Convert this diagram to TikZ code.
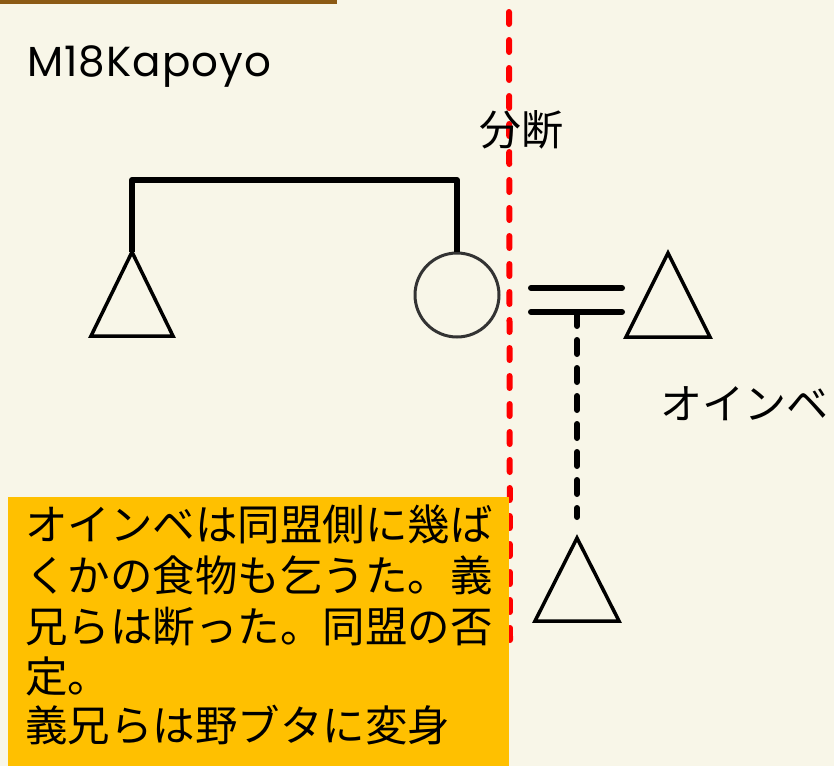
\documentclass[tikz,border=0pt]{standalone}
\usepackage{fontspec}
\newfontfamily\jp{Noto Sans CJK JP}
\newfontfamily\lat[LetterSpace=2.5]{Poppins}
\definecolor{bg}{HTML}{F8F6E8}
\definecolor{brownbar}{HTML}{8C5A14}
\definecolor{memo}{HTML}{FFC000}
\definecolor{circ}{HTML}{333333}
\begin{document}
\begin{tikzpicture}[x=1pt,y=-1pt,
  bond/.style={line width=6pt, line cap=round, line join=round},
  tri/.style={line width=3.5pt, line join=miter},
  jtxt/.style={font=\jp\fontsize{42}{50}\selectfont, inner sep=0pt, anchor=base west},
  memotxt/.style={font=\jp\fontsize{42.5}{50}\selectfont, inner sep=0pt, anchor=base west},
  divline/.style={red, line width=6pt, line cap=round, dash pattern=on 12pt off 16pt}]
\useasboundingbox (0,0) rectangle (834,766);
\fill[bg] (0,0) rectangle (834,766);
\fill[brownbar] (0,0) rectangle (337,4);
\node[font=\lat\fontsize{42}{48}\selectfont, inner sep=0pt, anchor=base west] (title) at (27,76) {M18Kapoyo};
% persons
\coordinate (Ltop) at (132,252);
\draw[tri] (Ltop) -- ++(-41,84) -- ++(82,0) -- cycle;
\node[circle, draw=circ, line width=3pt, minimum size=84pt, inner sep=0pt] (W) at (457,295) {};
\coordinate (Rtop) at (668,253);
\draw[tri] (Rtop) -- ++(-42,84) -- ++(84,0) -- cycle;
\coordinate (Btop) at (577,538);
\draw[tri] (Btop) -- ++(-42,83) -- ++(84,0) -- cycle;
% marriage bracket
\draw[bond, line cap=butt] (Ltop) -- ++(0,-72) -| (W.north);
% double line
\coordinate (d1a) at (531,288);
\coordinate (d1b) at (622,288);
\coordinate (d2a) at (531,312);
\coordinate (d2b) at (622,312);
\draw[bond] (d1a) -- (d1b);
\draw[bond] (d2a) -- (d2b);
\coordinate (cstart) at (577,312);
\coordinate (cend) at (577,517);
\draw[line width=6pt, line cap=round, dash pattern=on 14pt off 14pt] (cstart) -- (cend);
% split line
\coordinate (splitTop) at (509,12);
\coordinate (splitBot) at (510,642);
\draw[divline] (splitTop) -- (splitBot);
\node[jtxt] (split) at (479,145) {分断};
\node[jtxt] (oinbe) at (660,419) {オインベ};
% memo box
\fill[memo] (8,497) rectangle (509,766);
\node[memotxt] (l1) at (25,540) {オインベは同盟側に幾ば};
\node[memotxt] (l2) at (25,591) {くかの食物も乞うた。義};
\node[memotxt] (l3) at (25,642) {兄らは断った。同盟の否};
\node[memotxt] (l4) at (25,692) {定。};
\node[memotxt] (l5) at (25,741) {義兄らは野ブタに変身};
\end{tikzpicture}
\end{document}
